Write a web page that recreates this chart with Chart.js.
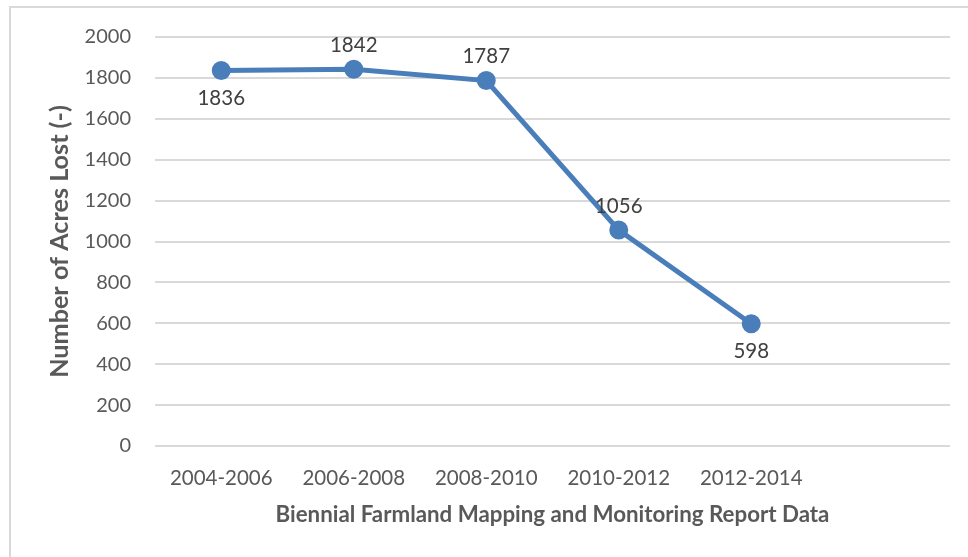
<!DOCTYPE html>
<html>
<head>
<meta charset="utf-8">
<script src="https://cdn.jsdelivr.net/npm/chart.js@4/dist/chart.umd.min.js"></script>
<style>
html,body{margin:0;padding:0;background:#fff;}
#wrap{position:relative;width:968px;height:557px;}
</style>
</head>
<body>
<div id="wrap"><canvas id="c" width="968" height="557"></canvas></div>
<script>
const categories = ['2004-2006', '2006-2008', '2008-2010', '2010-2012', '2012-2014', ''];
const acresLost = [1836, 1842, 1787, 1056, 598, null];
const labelPositions = ['below', 'above', 'above', 'above', 'below', null];
const yTicks = [0, 200, 400, 600, 800, 1000, 1200, 1400, 1600, 1800, 2000];

const FONT = 'Lato, "Open Sans", sans-serif';

const borderPlugin = {
  id: 'outerBorder',
  beforeDraw(chart) {
    const ctx = chart.ctx;
    ctx.save();
    ctx.fillStyle = '#ffffff';
    ctx.fillRect(0, 0, chart.width, chart.height);
    ctx.strokeStyle = '#d9d9d9';
    ctx.lineWidth = 2;
    ctx.strokeRect(10, 7, chart.width + 20, chart.height + 20);
    ctx.restore();
  }
};

const valueLabels = {
  id: 'valueLabels',
  afterDatasetsDraw(chart) {
    const ctx = chart.ctx;
    const meta = chart.getDatasetMeta(0);
    ctx.save();
    ctx.font = '20.5px ' + FONT;
    ctx.fillStyle = '#404040';
    ctx.textAlign = 'center';
    ctx.textBaseline = 'middle';
    meta.data.forEach((pt, i) => {
      const v = acresLost[i];
      if (v === null || v === undefined) return;
      const dy = labelPositions[i] === 'below' ? 28 : -24;
      ctx.fillText(String(v), pt.x, pt.y + dy);
    });
    ctx.restore();
  }
};

new Chart(document.getElementById('c'), {
  type: 'line',
  data: {
    labels: categories,
    datasets: [{
      data: acresLost,
      borderColor: '#4a7ebb',
      backgroundColor: '#4a7ebb',
      borderWidth: 5,
      pointRadius: 7,
      pointHoverRadius: 7,
      pointBackgroundColor: '#4a7ebb',
      pointBorderColor: '#4a7ebb',
      tension: 0,
      spanGaps: false
    }]
  },
  options: {
    responsive: false,
    animation: false,
    devicePixelRatio: 1,
    layout: { padding: { left: 10, right: 18, top: 37, bottom: 11 } },
    plugins: { legend: { display: false }, tooltip: { enabled: false } },
    scales: {
      x: {
        type: 'category',
        offset: true,
        grid: { display: false, drawTicks: false },
        border: { display: false },
        ticks: { color: '#595959', font: { family: FONT, size: 20.5 }, padding: 20, maxRotation: 0, autoSkip: false },
        title: {
          display: true,
          text: 'Biennial Farmland Mapping and Monitoring Report Data',
          color: '#595959',
          font: { family: FONT, size: 22.3, weight: 'bold' },
          padding: { top: 0, bottom: 18 }
        },
        afterFit(scale) { scale.height = 100; }
      },
      y: {
        min: 0,
        max: 2000,
        afterBuildTicks(scale) { scale.ticks = yTicks.map(v => ({ value: v })); },
        grid: { color: '#d9d9d9', lineWidth: 2, drawTicks: false },
        border: { display: false },
        ticks: { color: '#595959', font: { family: FONT, size: 20 }, padding: 24, callback: (v) => String(v) },
        title: {
          display: true,
          text: 'Number of Acres Lost (-)',
          color: '#595959',
          font: { family: FONT, size: 25.2, weight: 'bold' },
          padding: { top: 35, bottom: 0 }
        },
        afterFit(scale) { scale.width = 145; }
      }
    }
  },
  plugins: [borderPlugin, valueLabels]
});
</script>
</body>
</html>
